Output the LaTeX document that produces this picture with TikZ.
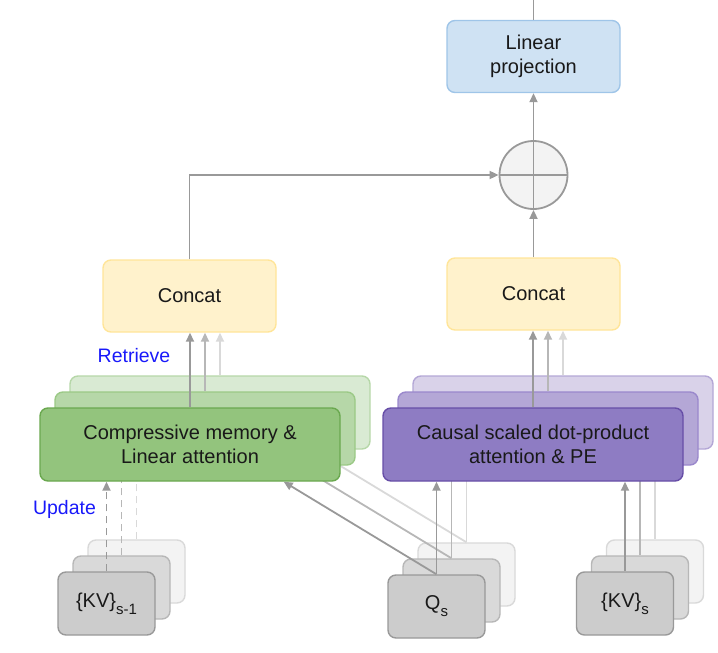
\documentclass[tikz,border=0pt]{standalone}
\usepackage{fontspec}
\setmainfont{Liberation Sans}
\usetikzlibrary{arrows.meta,calc}
\definecolor{gAf}{HTML}{93C47D}\definecolor{gAd}{HTML}{6AA84F}
\definecolor{gBf}{HTML}{B6D7A8}\definecolor{gBd}{HTML}{9BC986}
\definecolor{gCf}{HTML}{D9EAD3}\definecolor{gCd}{HTML}{B6D7A8}
\definecolor{pAf}{HTML}{8E7CC3}\definecolor{pAd}{HTML}{674EA7}
\definecolor{pBf}{HTML}{B4A7D6}\definecolor{pBd}{HTML}{9A88CC}
\definecolor{pCf}{HTML}{D9D2E9}\definecolor{pCd}{HTML}{B4A7D6}
\definecolor{kAf}{HTML}{CCCCCC}\definecolor{kAd}{HTML}{999999}
\definecolor{kBf}{HTML}{D9D9D9}\definecolor{kBd}{HTML}{B7B7B7}
\definecolor{kCf}{HTML}{F3F3F3}\definecolor{kCd}{HTML}{D9D9D9}
\definecolor{ccf}{HTML}{FFF2CC}\definecolor{ccd}{HTML}{FFE599}
\definecolor{lpf}{HTML}{CFE2F3}\definecolor{lpd}{HTML}{9FC5E8}
\definecolor{lnA}{HTML}{999999}\definecolor{lnB}{HTML}{B7B7B7}\definecolor{lnC}{HTML}{D9D9D9}
\definecolor{lblue}{RGB}{25,25,250}
\newcommand{\labfont}{\fontsize{20}{24}\selectfont}
\newcommand{\subfont}{\fontsize{15}{15}\selectfont}
\begin{document}
\begin{tikzpicture}[x=1pt,y=-1pt,
  boxst/.style={rectangle, rounded corners=8pt, line width=1.4pt, inner sep=0pt, align=center, font=\labfont, text=black!90},
  bigbox/.style={boxst, minimum width=300pt, minimum height=73pt},
  smallbox/.style={boxst, minimum width=97pt, minimum height=63pt},
  midbox/.style={boxst, minimum width=173pt, minimum height=72pt},
  arr/.style={line width=1.8pt, -{Triangle[length=9pt,width=8pt]}},
  ln/.style={line width=1.8pt},
  dsh/.style={dash pattern=on 7pt off 5pt}
]
\useasboundingbox (0,0) rectangle (718,653);

% top part
\node[midbox, fill=lpf, draw=lpd] (lp) at (533.5,56.5) {Linear\\projection};
\node[circle, draw=lnA, fill=kCf, line width=1.8pt, minimum size=68pt, inner sep=0pt] (plus) at (533.5,175) {};
\draw[lnA, line width=1.8pt] (plus.west) -- (plus.east);
\draw[lnA, line width=1.8pt] (plus.north) -- (plus.south);
\node[midbox, fill=ccf, draw=ccd] (c1) at (189.5,296) {Concat};
\node[midbox, fill=ccf, draw=ccd] (c2) at (533.5,294) {Concat};
\coordinate (topend) at (533.5,0);
\draw[lnA, ln] (lp.north) -- (topend);
\draw[lnA, arr] (plus.north) -- (lp.south);
\draw[lnA, arr] (c2.north) -- (plus.south);
\draw[lnA, arr] (c1.north) |- (plus.west);

% labels
\node[font=\fontsize{19.5}{22}\selectfont, text=lblue] (ret) at (134,356) {Retrieve};
\node[font=\fontsize{19.5}{22}\selectfont, text=lblue] (upd) at (64.5,509) {Update};

% ---- back layer ----
\node[bigbox, fill=gCf, draw=gCd] (g3) at (220,412.5) {};
\node[bigbox, fill=pCf, draw=pCd] (p3) at (563,412.5) {};
\node[smallbox, fill=kCf, draw=kCd] (kvp3) at (136.5,571.5) {};
\node[smallbox, fill=kCf, draw=kCd] (q3) at (466.5,574.5) {};
\node[smallbox, fill=kCf, draw=kCd] (kv3) at (655,571.5) {};
\draw[lnC, arr] (g3.north) -- (g3.north |- c1.south);
\draw[lnC, arr] (p3.north) -- (p3.north |- c2.south);
\draw[lnC, ln, dsh] (kvp3.north) -- (kvp3.north |- g3.south);
\draw[lnC, ln] (q3.north) -- (q3.north |- p3.south);
\draw[lnC, ln] (kv3.north) -- (kv3.north |- p3.south);
\draw[lnC, ln] (q3.north) -- ([xshift=-57pt]g3.south east);

% ---- middle layer ----
\node[bigbox, fill=gBf, draw=gBd] (g2) at (205,428.5) {};
\node[bigbox, fill=pBf, draw=pBd] (p2) at (548,428.5) {};
\node[smallbox, fill=kBf, draw=kBd] (kvp2) at (121.5,587.5) {};
\node[smallbox, fill=kBf, draw=kBd] (q2) at (451.5,590.5) {};
\node[smallbox, fill=kBf, draw=kBd] (kv2) at (640,587.5) {};
\draw[lnB, arr] (g2.north) -- (g2.north |- c1.south);
\draw[lnB, arr] (p2.north) -- (p2.north |- c2.south);
\draw[lnB, ln, dsh] (kvp2.north) -- (kvp2.north |- g2.south);
\draw[lnB, ln] (q2.north) -- (q2.north |- p2.south);
\draw[lnB, ln] (kv2.north) -- (kv2.north |- p2.south);
\draw[lnB, ln] (q2.north) -- ([xshift=-57pt]g2.south east);

% ---- front layer ----
\node[bigbox, fill=gAf, draw=gAd] (g1) at (190,444.5) {Compressive memory \&\\Linear attention};
\node[bigbox, fill=pAf, draw=pAd] (p1) at (533,444.5) {Causal scaled dot-product\\attention \& PE};
\node[smallbox, fill=kAf, draw=kAd] (kvp1) at (106.5,603.5) {\{KV\}\raisebox{-0.35em}{\subfont s-1}};
\node[smallbox, fill=kAf, draw=kAd] (q1) at (436.5,606.5) {Q\raisebox{-0.35em}{\subfont s}};
\node[smallbox, fill=kAf, draw=kAd] (kv1) at (625,603.5) {\{KV\}\raisebox{-0.35em}{\subfont s}};
\draw[lnA, arr] (g1.north) -- (g1.north |- c1.south);
\draw[lnA, arr] (p1.north) -- (p1.north |- c2.south);
\draw[lnA, arr, dsh] (kvp1.north) -- (kvp1.north |- g1.south);
\draw[lnA, arr] (q1.north) -- (q1.north |- p1.south);
\draw[lnA, arr] (kv1.north) -- (kv1.north |- p1.south);
\draw[lnA, arr] (q1.north) -- ([xshift=-57pt]g1.south east);
\end{tikzpicture}
\end{document}
